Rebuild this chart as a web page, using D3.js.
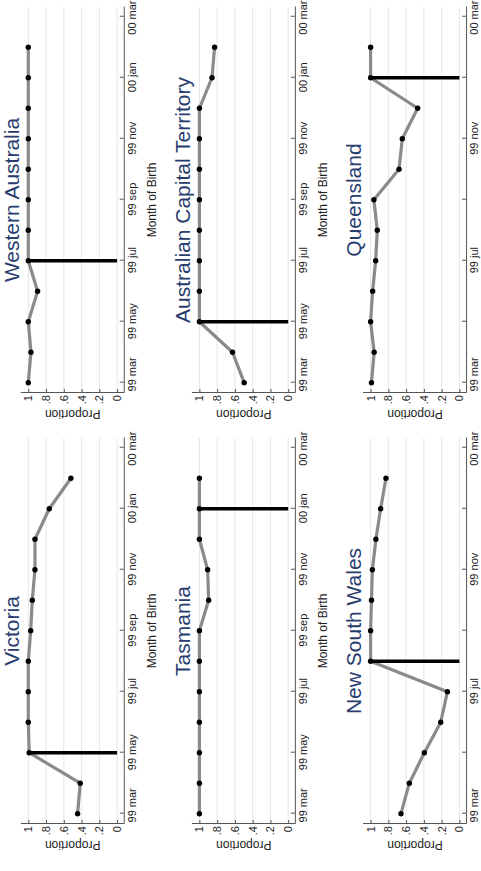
<!DOCTYPE html>
<html>
<head>
<meta charset="utf-8">
<script src="https://cdn.jsdelivr.net/npm/d3@7"></script>
<style>
html, body { margin: 0; padding: 0; background: #fff; }
svg { display: block; font-family: "Liberation Sans", Arial, sans-serif; }
</style>
</head>
<body>
<div id="chart"></div>
<script>
// data: proportion by month of birth (99 mar .. 00 feb)
var months = ["99 mar","99 apr","99 may","99 jun","99 jul","99 aug","99 sep","99 oct","99 nov","99 dec","00 jan","00 feb"];
var tickLabels = ["99 mar","99 may","99 jul","99 sep","99 nov","00 jan","00 mar"];
var yTicks = [0, .2, .4, .6, .8, 1];
var yTickLabels = ["0", ".2", ".4", ".6", ".8", "1"];

var states = ["Victoria", "Western Australia", "Tasmania", "Australian Capital Territory", "New South Wales", "Queensland"];
var cutoffs = ["99 may", "99 jul", "00 jan", "99 may", "99 aug", "00 jan"];

var victoria   = [0.445, 0.415, 0.99, 1.0, 1.0, 1.0, 0.973, 0.955, 0.925, 0.925, 0.764, 0.52];
var westernAus = [1.0, 0.97, 1.0, 0.895, 1.0, 1.0, 1.0, 1.0, 1.0, 1.0, 1.0, 1.0];
var tasmania   = [1.0, 1.0, 1.0, 1.0, 1.0, 1.0, 1.0, 0.896, 0.907, 1.0, 1.0, 1.0];
var act        = [0.496, 0.627, 1.0, 1.0, 1.0, 1.0, 1.0, 1.0, 1.0, 1.0, 0.858, 0.829];
var nsw        = [0.658, 0.564, 0.395, 0.21, 0.135, 1.0, 1.0, 0.99, 0.98, 0.94, 0.887, 0.827];
var queensland = [0.99, 0.96, 1.0, 0.977, 0.943, 0.925, 0.963, 0.68, 0.643, 0.47, 1.0, 1.0];
var series = [victoria, westernAus, tasmania, act, nsw, queensland];

// setup - the graph is drawn landscape then turned a quarter to the left
var W = 871, H = 481;
var svg = d3.select("#chart").append("svg")
    .attr("width", H)
    .attr("height", W);
var fig = svg.append("g")
    .attr("transform", "translate(0," + W + ") rotate(-90)");

var colLeft = [47, 478];
var rowTop = [28.3, 199.4, 370.6];   // where proportion = 1 sits
var plotW = 386, unit = 88.8;
var plotH = 1.165 * unit;

var x = d3.scaleLinear().domain([-0.338, 12.32]).range([0, plotW]);
var y = d3.scaleLinear().domain([-0.075, 1.09]).range([plotH, 0]);

states.forEach(function(name, i) {
    var row = Math.floor(i / 2), col = i % 2;
    var top = rowTop[row] - y(1);
    var g = fig.append("g")
        .attr("transform", "translate(" + colLeft[col] + "," + top + ")");

    // grid
    g.selectAll(".grid")
        .data(yTicks)
        .enter()
        .append("line")
            .attr("x1", 0).attr("x2", plotW)
            .attr("y1", function(d) { return y(d); })
            .attr("y2", function(d) { return y(d); })
            .attr("stroke", "#e6e6e6")
            .attr("stroke-width", 1);

    // month axis
    var xAxis = d3.axisBottom(x)
        .tickValues(d3.range(0, 13, 2))
        .tickSizeInner(-4)
        .tickSizeOuter(0)
        .tickPadding(4)
        .tickFormat(function(d, k) { return (row == 2 && k % 2) ? "" : tickLabels[k]; });
    var xg = g.append("g")
        .attr("transform", "translate(0," + plotH + ")")
        .call(xAxis)
        .attr("font-size", 11)
        .attr("font-family", null);
    xg.selectAll("path, line").attr("stroke", "#555");
    xg.selectAll("text").attr("fill", "#222");
    // end labels kept inside the panel
    xg.selectAll("text").filter(function(d) { return d == 0; })
        .attr("text-anchor", "start")
        .attr("x", -(x(0) - 1));
    xg.selectAll("text").filter(function(d) { return d == 12; })
        .attr("text-anchor", "end")
        .attr("x", 392 - x(12));

    // proportion axis
    var yAxis = d3.axisLeft(y)
        .tickValues(yTicks)
        .tickSizeInner(-4)
        .tickSizeOuter(0)
        .tickPadding(2)
        .tickFormat(function(d, k) { return yTickLabels[k]; });
    var yg = g.append("g")
        .call(yAxis)
        .attr("font-size", 11)
        .attr("font-family", null);
    yg.selectAll("path, line").attr("stroke", "#555");
    yg.selectAll("text").attr("fill", "#222");

    // axis titles (bottom row's month title falls outside the crop)
    if (top + plotH + 32 < H) {
        g.append("text")
            .attr("x", plotW / 2)
            .attr("y", plotH + 32)
            .attr("text-anchor", "middle")
            .attr("font-size", 12)
            .attr("fill", "#222")
            .text("Month of Birth");
    }
    g.append("text")
        .attr("transform", "translate(-17," + y(0.5) + ") rotate(-90)")
        .attr("text-anchor", "middle")
        .attr("font-size", 12)
        .attr("fill", "#222")
        .text("Proportion");

    // panel title
    g.append("text")
        .attr("x", plotW / 2)
        .attr("y", y(1) - 9.5)
        .attr("text-anchor", "middle")
        .attr("font-size", 21)
        .attr("fill", "#283c6e")
        .text(name);

    var vals = series[i];
    var line = d3.line()
        .x(function(d, k) { return x(k); })
        .y(function(d) { return y(d); });
    g.append("path")
        .datum(vals)
        .attr("d", line)
        .attr("fill", "none")
        .attr("stroke", "#8a8a8a")
        .attr("stroke-width", 3.2)
        .attr("stroke-linejoin", "round");

    // cutoff month
    var c = months.indexOf(cutoffs[i]);
    g.append("line")
        .attr("x1", x(c)).attr("x2", x(c))
        .attr("y1", y(0)).attr("y2", y(1))
        .attr("stroke", "#000")
        .attr("stroke-width", 3.5);

    g.selectAll(".pt")
        .data(vals)
        .enter()
        .append("circle")
            .attr("cx", function(d, k) { return x(k); })
            .attr("cy", function(d) { return y(d); })
            .attr("r", 2.7)
            .attr("fill", "#000");
});
</script>
</body>
</html>
